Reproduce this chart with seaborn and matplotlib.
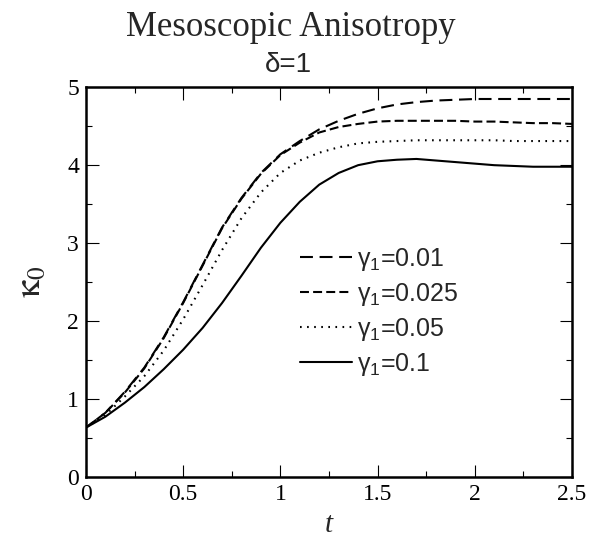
import matplotlib
matplotlib.use("Agg")
import matplotlib.pyplot as plt
from matplotlib.ticker import MultipleLocator
from matplotlib.font_manager import FontProperties
import pandas as pd
import seaborn as sns

# ---- data ----
t = [0.0, 0.1, 0.2, 0.3, 0.4, 0.5, 0.6, 0.7, 0.8, 0.9, 1.0, 1.1, 1.2,
     1.3, 1.4, 1.5, 1.6, 1.7, 1.8, 1.9, 2.0, 2.1, 2.2, 2.3, 2.4, 2.5]
k_001 = [0.63, 0.82, 1.09, 1.40, 1.79, 2.24, 2.72, 3.20, 3.58, 3.90, 4.14, 4.31, 4.46,
         4.57, 4.66, 4.73, 4.78, 4.81, 4.83, 4.84, 4.85, 4.85, 4.85, 4.85, 4.85, 4.85]
k_0025 = [0.63, 0.82, 1.08, 1.39, 1.78, 2.23, 2.71, 3.19, 3.57, 3.89, 4.13, 4.29, 4.42,
          4.49, 4.53, 4.56, 4.57, 4.57, 4.57, 4.57, 4.56, 4.56, 4.55, 4.54, 4.54, 4.53]
k_005 = [0.63, 0.79, 1.03, 1.29, 1.62, 2.02, 2.46, 2.91, 3.32, 3.65, 3.90, 4.06, 4.16,
         4.23, 4.28, 4.30, 4.31, 4.32, 4.32, 4.32, 4.32, 4.32, 4.31, 4.31, 4.31, 4.31]
k_01 = [0.63, 0.77, 0.95, 1.15, 1.38, 1.63, 1.91, 2.23, 2.58, 2.94, 3.26, 3.53, 3.75,
        3.90, 4.00, 4.05, 4.07, 4.08, 4.06, 4.04, 4.02, 4.00, 3.99, 3.98, 3.98, 3.98]
labels = [r"$\mathrm{γ_1}$=0.01", r"$\mathrm{γ_1}$=0.025",
          r"$\mathrm{γ_1}$=0.05", r"$\mathrm{γ_1}$=0.1"]
series = [k_001, k_0025, k_005, k_01]
x_ticks = [0, 0.5, 1, 1.5, 2, 2.5]
x_ticklabels = ["0", "0.5", "1", "1.5", "2", "2.5"]
y_ticks = [0, 1, 2, 3, 4, 5]
y_ticklabels = ["0", "1", "2", "3", "4", "5"]

# ---- style ----
sns.set_style("ticks")
plt.rcParams["font.family"] = ["Liberation Serif", "DejaVu Serif"]
plt.rcParams["mathtext.fontset"] = "custom"
plt.rcParams["mathtext.rm"] = "Liberation Sans"
plt.rcParams["mathtext.it"] = "Liberation Sans:italic"

styles = [(0, (6.2, 3.2)), (0, (4.3, 2.0)), (0, (0.8, 2.6)), "-"]

fig = plt.figure(figsize=(5.89, 5.41), dpi=100)
ax = fig.add_axes([0.146, 0.119, 0.825, 0.7196])

for vals, lab, ls in zip(series, labels, styles):
    sns.lineplot(x=t, y=vals, ax=ax, color="black", lw=1.5,
                 linestyle=ls, label=lab)

ax.set_xlim(0, 2.5)
ax.set_ylim(0, 5)
ax.set_xticks(x_ticks)
ax.set_xticklabels(x_ticklabels)
ax.set_yticks(y_ticks)
ax.set_yticklabels(y_ticklabels)
ax.xaxis.set_minor_locator(MultipleLocator(0.25))
ax.yaxis.set_minor_locator(MultipleLocator(0.5))
ax.tick_params(which="both", direction="in", top=True, right=True,
               labelsize=17, width=0.8, color="black", labelcolor="black")
ax.tick_params(which="major", length=9, pad=5)
ax.tick_params(which="minor", length=4.5)
for sp in ax.spines.values():
    sp.set_linewidth(1.8)
    sp.set_color("black")
    sp.set_visible(True)

ax.set_xlabel("t", fontsize=21, fontstyle="italic", labelpad=5)
ax.set_ylabel(r"$\mathrm{\kappa_0}$", fontsize=26, labelpad=14,
              math_fontfamily="stix")

leg_fp = FontProperties(family="Liberation Sans", size=18,
                        math_fontfamily="custom")
leg = ax.legend(loc="upper left", bbox_to_anchor=(0.44, 0.592),
                frameon=False, prop=leg_fp, handlelength=2.1,
                handletextpad=0.2, labelspacing=0.32,
                borderpad=0, borderaxespad=0)

fig.text(0.494, 0.9335, "Mesoscopic Anisotropy", ha="center",
         va="baseline", fontsize=25, family="Liberation Serif")
fig.text(0.489, 0.867, "δ=1", ha="center", va="baseline", fontsize=20,
         family="Liberation Sans")

fig.savefig("out.png", dpi=100)
